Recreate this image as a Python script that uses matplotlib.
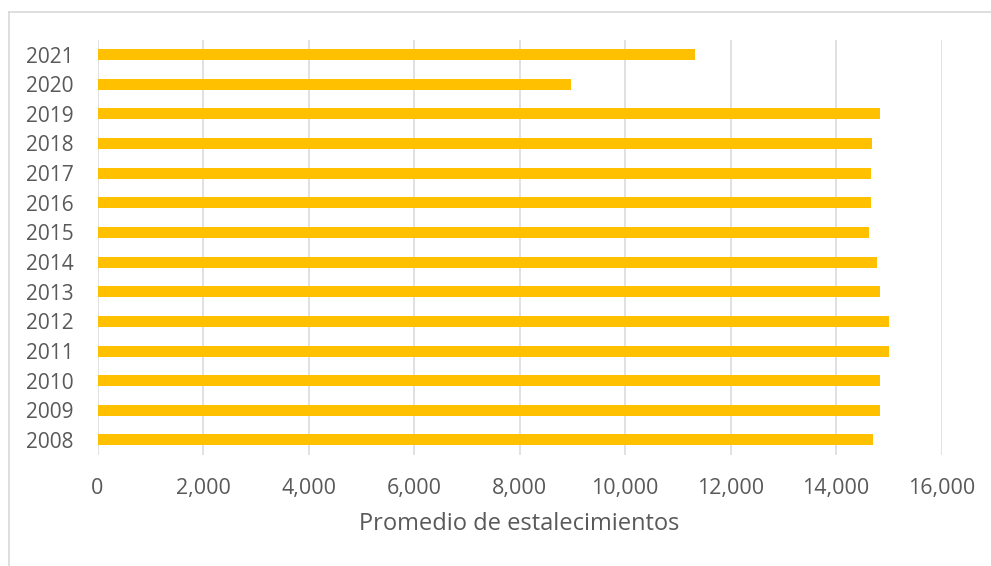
import numpy as np
import matplotlib
matplotlib.use('Agg')
import matplotlib.pyplot as plt
from matplotlib.lines import Line2D
from matplotlib.ticker import FuncFormatter, MultipleLocator

#-----------------------------------------------------------------------------

years = ['2008', '2009', '2010', '2011', '2012', '2013', '2014',
         '2015', '2016', '2017', '2018', '2019', '2020', '2021']
promedio = [14700, 14825, 14835, 15000, 15000, 14825, 14780,
            14625, 14660, 14660, 14690, 14825, 8970, 11325]

bar_color = '#FFC000'
text_color = '#595959'
grid_color = '#D9D9D9'

plt.rcParams['font.family'] = ['Open Sans', 'DejaVu Sans']

#-----------------------------------------------------------------------------

W, H = 991, 566
fig = plt.figure(figsize=(W/100, H/100), dpi=100)
ax = fig.add_axes([97.5/W, 1-454.8/H, 844/W, 415.1/H])

y = np.arange(len(years))
ax.barh(y, promedio, height=0.37, color=bar_color, zorder=3)

ax.set_xlim(0, 16000)
ax.set_ylim(-0.5, len(years)-0.5)
ax.set_yticks(y)
ax.set_yticklabels(years)
ax.xaxis.set_major_locator(MultipleLocator(2000))
ax.xaxis.set_major_formatter(FuncFormatter(lambda v, p: '{:,.0f}'.format(v)))

ax.grid(axis='x', color=grid_color, linewidth=1.1, zorder=0)
for s in ax.spines.values():
    s.set_visible(False)
ax.tick_params(axis='both', length=0, colors=text_color)
ax.tick_params(axis='x', pad=17, labelsize=15.5)
ax.tick_params(axis='y', pad=17, labelsize=15)

ax.set_xlabel('Promedio de estalecimientos', fontsize=17, color=text_color, labelpad=9)

# light frame of the chart area (cut off at right and bottom)
fig.add_artist(Line2D([8.5/W, 8.5/W], [0, 1-11.5/H], transform=fig.transFigure,
                      color=grid_color, linewidth=1.2))
fig.add_artist(Line2D([8.5/W, 1], [1-11.5/H, 1-11.5/H], transform=fig.transFigure,
                      color=grid_color, linewidth=1.2))

fig.savefig('out.png', dpi=100)
